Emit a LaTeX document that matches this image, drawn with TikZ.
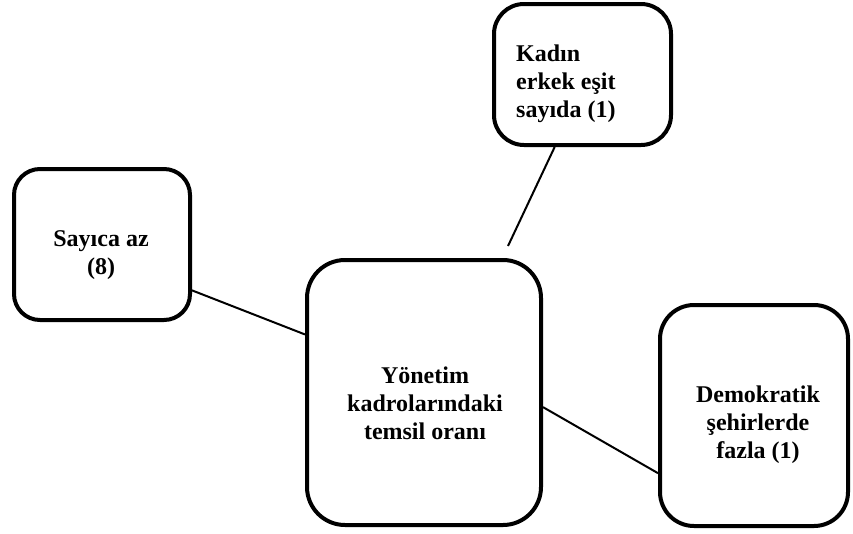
\documentclass[tikz,border=0pt]{standalone}
\usepackage{fontspec}
\setmainfont{Liberation Serif}
\usetikzlibrary{calc}
\begin{document}
\begin{tikzpicture}[x=1pt,y=-1pt,
  catbox/.style={draw=black,line width=4pt,rounded corners=#1,rectangle,inner sep=0pt},
  catbox/.default=28pt,
  boxtext/.style={font=\bfseries\fontsize{24}{28}\selectfont,inner sep=0pt},
  link/.style={draw=black,line width=2pt}]
  \useasboundingbox (0,0) rectangle (853,533);
  % boxes
  \node[catbox=30pt,minimum width=177pt,minimum height=141pt] (top) at (582.5,74.5) {};
  \node[catbox=26pt,minimum width=176pt,minimum height=151pt] (left) at (102,244.5) {};
  \node[catbox=38pt,minimum width=234pt,minimum height=265pt] (center) at (424,392.5) {};
  \node[catbox=34pt,minimum width=188pt,minimum height=221pt] (right) at (754,415.5) {};
  % labels
  \node[boxtext,align=left,anchor=west] (toptext) at (516,84) {Kadın\\erkek eşit\\sayıda (1)};
  \node[boxtext,align=center] (lefttext) at (101,255) {Sayıca az\\(8)};
  \node[boxtext,align=center] (centertext) at (425,403) {Yönetim\\kadrolarındaki\\temsil oranı};
  \node[boxtext,align=center] (righttext) at (758,425) {Demokratik\\şehirlerde\\fazla (1)};
  % connectors
  \coordinate (topend) at ($(center.north)+(84,-12)$);
  \draw[link] (top.-111.3) -- (topend);
  \draw[link] (left.-27.3) -- (center.154.6);
  \draw[link] (center.-7.07) -- (right.-149);
\end{tikzpicture}
\end{document}
